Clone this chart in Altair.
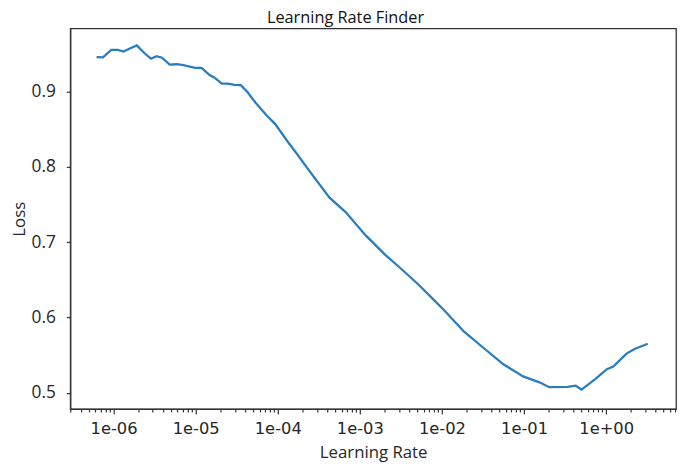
import altair as alt
import pandas as pd

lr = [6.21e-7, 7.44e-7, 9.38e-7, 1.13e-6, 1.32e-6, 1.63e-6, 1.92e-6, 2.42e-6, 2.86e-6,
      3.34e-6, 3.90e-6, 4.82e-6, 5.90e-6, 7.10e-6, 9.81e-6, 1.18e-5, 1.48e-5, 1.70e-5,
      2.08e-5, 2.46e-5, 2.96e-5, 3.55e-5, 4.27e-5, 5.37e-5, 7.43e-5, 9.33e-5, 1.29e-4,
      1.70e-4, 2.45e-4, 4.27e-4, 6.76e-4, 1.17e-3, 2.04e-3, 2.94e-3, 5.12e-3, 7.74e-3,
      1.07e-2, 1.86e-2, 3.22e-2, 5.60e-2, 9.73e-2, 0.154, 0.203, 0.337, 0.424, 0.500,
      0.736, 1.02, 1.22, 1.77, 2.22, 3.21]
loss = [0.9460, 0.9456, 0.9556, 0.9556, 0.9534, 0.9582, 0.9616, 0.9504, 0.9439,
        0.9473, 0.9452, 0.9361, 0.9365, 0.9352, 0.9317, 0.9317, 0.9221, 0.9186,
        0.9108, 0.9108, 0.9091, 0.9087, 0.8996, 0.8853, 0.8678, 0.8570, 0.8352,
        0.8179, 0.7941, 0.7593, 0.7397, 0.7094, 0.6833, 0.6681, 0.6442, 0.6247,
        0.6094, 0.5812, 0.5595, 0.5378, 0.5218, 0.5139, 0.5074, 0.5078, 0.5095, 0.5043,
        0.5182, 0.5313, 0.5348, 0.5521, 0.5582, 0.5651]

x_domain = [2.97e-7, 7.1]
y_domain = [0.4785, 0.984]
y_ticks = [0.5, 0.6, 0.7, 0.8, 0.9]
x_ticks = [m * 10.0 ** e for e in range(-7, 1) for m in range(1, 10)]
x_ticks = [v for v in x_ticks if x_domain[0] <= v <= x_domain[1]]

df = pd.DataFrame({"lr": lr, "loss": loss})

E = "round(log(datum.value)/LN10)"
is_decade = f"abs(log(datum.value)/LN10 - {E}) < 0.001"
label_expr = (f"{is_decade} ? '1e' + ({E} < 0 ? '-' : '+') + "
              f"(abs({E}) < 10 ? '0' : '') + abs({E}) : ''")

chart = alt.Chart(df).mark_line(color="#2a7dc0", strokeWidth=2.3, clip=True).encode(
    x=alt.X("lr:Q", title="Learning Rate",
            scale=alt.Scale(type="log", domain=x_domain, nice=False),
            axis=alt.Axis(values=x_ticks, labelExpr=label_expr, grid=False, domain=True,
                          domainColor="#333", domainWidth=1.3,
                          tickSize={"condition": {"test": is_decade, "value": 5}, "value": 3},
                          tickColor="#333", tickWidth=1.2, labelFont="DejaVu Sans",
                          labelFontSize=16.5, labelColor="#262626", labelPadding=7,
                          titleFont="Open Sans", titleFontSize=17, titleFontWeight="normal",
                          titleColor="#262626", titlePadding=8, labelFlush=False)),
    y=alt.Y("loss:Q", title="Loss",
            scale=alt.Scale(domain=y_domain, nice=False, zero=False),
            axis=alt.Axis(values=y_ticks, format=".1f", grid=False, domain=True,
                          domainColor="#333", domainWidth=1.3,
                          tickSize=4, tickColor="#333", tickWidth=1.2,
                          labelFont="Open Sans", labelFontSize=17.5, labelColor="#262626",
                          labelPadding=11, titleFont="Open Sans", titleFontSize=17,
                          titleFontWeight="normal", titleColor="#262626", titlePadding=3)),
).properties(
    width=613, height=385,
    title=alt.TitleParams("Learning Rate Finder", font="Open Sans", fontSize=16.5,
                          fontWeight="normal", color="#111", anchor="middle", dx=-28,
                          dy=2),
    autosize=alt.AutoSizeParams(type="none"),
    padding={"left": 63, "top": 18, "right": 4, "bottom": 57},
).configure(
    background="white",
    view=alt.ViewConfig(stroke="#333", strokeWidth=1.3),
)

chart.save("out.html", embed_options={"renderer": "svg", "actions": False})
